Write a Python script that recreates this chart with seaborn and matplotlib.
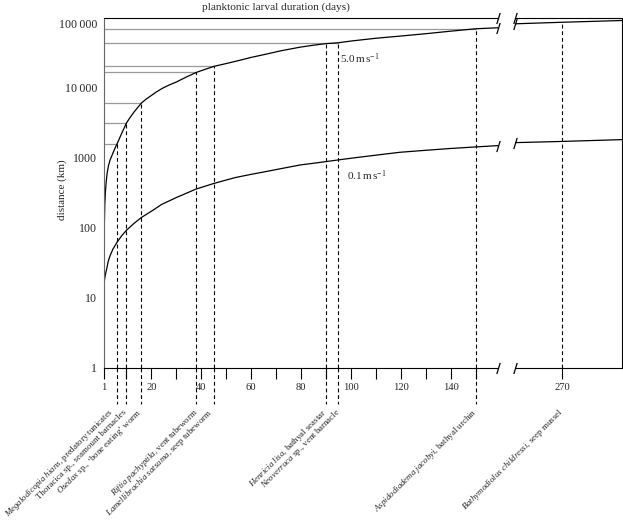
import numpy as np
import pandas as pd
import matplotlib
matplotlib.use("Agg")
import matplotlib.pyplot as plt
import matplotlib.transforms as mtransforms
import seaborn as sns

# ---- data ----
fast_days = [1.0, 1.02, 1.04, 1.08, 1.16, 1.32, 1.56, 1.88, 2.28, 2.8, 3.4, 4.5, 5.4,
             6.3, 8.0, 10.0, 11.4, 13.0, 16.0, 18.0, 20.0, 22.0, 24.4, 27.0, 30.0,
             34.0, 38.0, 41.5, 45.0, 50.0, 55.0, 60.0, 66.0, 72.0, 79.7, 85.0, 90.0,
             95.0, 100.0, 110.0, 120.0, 130.0, 140.0, 150.0, 159.0]
fast_km = [1, 3.4, 12.8, 48, 118, 215, 325, 455, 610, 770, 920, 1150, 1370,
           1600, 2200, 3141, 3750, 4500, 6070, 6950, 7800, 8750, 9862, 10950, 12140,
           14300, 16640, 18400, 20290, 22300, 24600, 27300, 30400, 34000, 38300, 40800, 43000,
           44260, 46800, 51300, 55200, 59600, 64800, 70100, 72500]
slow_days = [1.0, 1.01, 1.2, 1.6, 2.08, 2.72, 3.4, 4.6, 6.3, 8.0, 10.0, 13.0, 16.0,
             20.0, 24.1, 30.0, 38.0, 45.0, 53.5, 60.0, 66.4, 72.0, 79.7, 87.7, 95.7,
             100.0, 110.0, 119.7, 130.0, 140.0, 150.0, 159.0]
slow_km = [1, 14, 17.9, 21.8, 25.7, 33.4, 39.4, 49.6, 62.4, 76, 91.9, 115, 140,
           172, 215, 270, 358, 429, 520, 580, 640, 700, 790, 860, 940,
           985, 1090, 1200, 1280, 1360, 1430, 1494]
fast_days_right = [251, 270, 294]
fast_km_right = [82600, 86900, 92100]
slow_days_right = [251, 270, 294]
slow_km_right = [1648, 1715, 1820]

species_italic = ["Megalodicopia hians", "", "Osedax", "Riftia pachyptila",
                  "Lamellibrachia satsuma", "Henricia lisa", "Neoverruca",
                  "Aspidodiadema jacobyi", "Bathymodiolus childressi"]
species_plain = [", predatory tunicates", "Thoracica sp., seamount barnacles",
                 " sp., \u2018bone eating\u2019 worm", ", vent tubeworm", ", seep tubeworm",
                 ", bathyal seastar", " sp., vent barnacle", ", bathyal urchin",
                 ", seep mussel"]
species_days = [6.3, 10, 16, 38, 45, 90, 95, 150, 270]
species_reach_km = [1600, 3141, 6070, 16640, 20290, 43000, 44260, 70100, 86900]

x_major_ticks = [1, 20, 40, 60, 80, 100, 120, 140]
x_minor_ticks = [10, 30, 50, 70, 90, 110, 130, 150]
x_right_ticks = [270]
y_ticks = [1, 10, 100, 1000, 10000]
y_tick_labels = ["1", "10", "100", "1000", "10\u2009000"]
speed_labels = ["5.0$\\,$m$\\,$s$^{-1}$", "0.1$\\,$m$\\,$s$^{-1}$"]

# ---- style ----
sns.set_theme(style="ticks")
plt.rcParams["font.family"] = ["Liberation Serif", "DejaVu Serif"]
plt.rcParams["mathtext.fontset"] = "custom"
plt.rcParams["mathtext.rm"] = "Liberation Serif"
plt.rcParams["mathtext.it"] = "Liberation Serif:italic"
plt.rcParams["axes.linewidth"] = 0.8
plt.rcParams["axes.edgecolor"] = "black"

W, H = 623, 522
fig = plt.figure(figsize=(W / 100, H / 100), dpi=100)
bot = 1 - 367.5 / H
top = 1 - 18 / H
ax1 = fig.add_axes([104 / W, bot, (498 - 104) / W, top - bot])
ax2 = fig.add_axes([515 / W, bot, (622 - 515) / W, top - bot])

for ax in (ax1, ax2):
    ax.set_yscale("log")
    ax.set_ylim(1, 1e5)
    ax.set_facecolor("white")
ax1.set_xlim(1, 159)
ax2.set_xlim(251, 294)

lw_curve = 0.9
sns.lineplot(x=fast_days, y=fast_km, ax=ax1, color="black", lw=lw_curve, sort=False)
sns.lineplot(x=slow_days, y=slow_km, ax=ax1, color="black", lw=lw_curve, sort=False)
sns.lineplot(x=fast_days_right, y=fast_km_right, ax=ax2, color="black", lw=lw_curve)
sns.lineplot(x=slow_days_right, y=slow_km_right, ax=ax2, color="black", lw=lw_curve)

dash = (0, (3.5, 2.5))
label_dx = [-5, -1, -1, 1, -2, -1, 1, 0, 0]
n = len(species_days)
for i, d in enumerate(species_days):
    ax = ax1 if d <= 159 else ax2
    r = species_reach_km[i]
    ax.plot([d, d], [1, r], color="black", lw=0.8, ls=dash)
    if ax is ax1:
        overlapped = i + 1 < n and species_reach_km[i + 1] / r < 1.05
        if not overlapped:
            ax1.plot([1, d], [r, r], color="#9a9a9a", lw=0.9, zorder=1)
        ax.plot([d, d], [0, -0.105], color="black", lw=0.8, ls=dash,
                transform=ax.get_xaxis_transform(), clip_on=False)
    txt = ""
    if species_italic[i]:
        txt = "$\\it{" + species_italic[i].replace(" ", "\\ ") + "}$"
    txt += species_plain[i]
    tr = mtransforms.offset_copy(ax.get_xaxis_transform(), fig=fig,
                                 x=label_dx[i], y=0, units="dots")
    ax.text(d, -0.124, txt, transform=tr, rotation=45, rotation_mode="anchor",
            ha="right", va="center", fontsize=6.4, clip_on=False)

# speed labels
ax1.text(95.5, 2.6e4, speed_labels[0], fontsize=8, ha="left", va="center")
ax1.text(98.5, 560, speed_labels[1], fontsize=8, ha="left", va="center")

# axes styling
ax1.spines["right"].set_visible(False)
ax1.spines["left"].set_color("#666666")
ax2.spines["left"].set_visible(False)
ax1.set_yticks(y_ticks)
ax1.set_yticklabels(y_tick_labels)
ax1.yaxis.set_minor_locator(matplotlib.ticker.NullLocator())
ax2.yaxis.set_minor_locator(matplotlib.ticker.NullLocator())
ax1.tick_params(axis="y", length=0, pad=4.8, labelsize=8.6)
ax2.set_yticks([])
ax1.text(0, 1e5, "100\u2009000", fontsize=8.6, ha="right", va="center",
         transform=mtransforms.offset_copy(ax1.get_yaxis_transform(), fig=fig,
                                           x=-6.7, y=-7.5, units="dots"))

ax1.set_xticks(x_major_ticks)
ax1.set_xticklabels([str(t) for t in x_major_ticks])
ax1.set_xticks(x_minor_ticks, minor=True)
ax2.set_xticks(x_right_ticks)
ax2.set_xticklabels([str(t) for t in x_right_ticks])
for ax in (ax1, ax2):
    ax.tick_params(axis="x", which="both", direction="out", length=8, width=0.8,
                   pad=3.5, labelsize=7.6, color="black")
    ax.grid(False)
    ax.set_xlabel("")
    ax.set_ylabel("")

# break marks
mk = dict(marker=[(-1, -3.3), (1, 3.3)], markersize=8, linestyle="none",
          color="black", mec="black", mew=0.9, clip_on=False)
ax1.plot([1, 1], [0, 1], transform=ax1.transAxes, **mk)
ax2.plot([0, 0], [0, 1], transform=ax2.transAxes, **mk)
ax1.plot([fast_days[-1], slow_days[-1]], [fast_km[-1], slow_km[-1]], **mk)
ax2.plot([fast_days_right[0], slow_days_right[0]], [fast_km_right[0], slow_km_right[0]], **mk)

fig.text(276 / W, 1 - 7 / H, "planktonic larval duration (days)", fontsize=8.2,
         ha="center", va="center")
fig.text(62 / W, 1 - 190 / H, "distance (km)", fontsize=8, rotation=90,
         ha="center", va="center")

fig.savefig("out.png", dpi=100, facecolor="white")
